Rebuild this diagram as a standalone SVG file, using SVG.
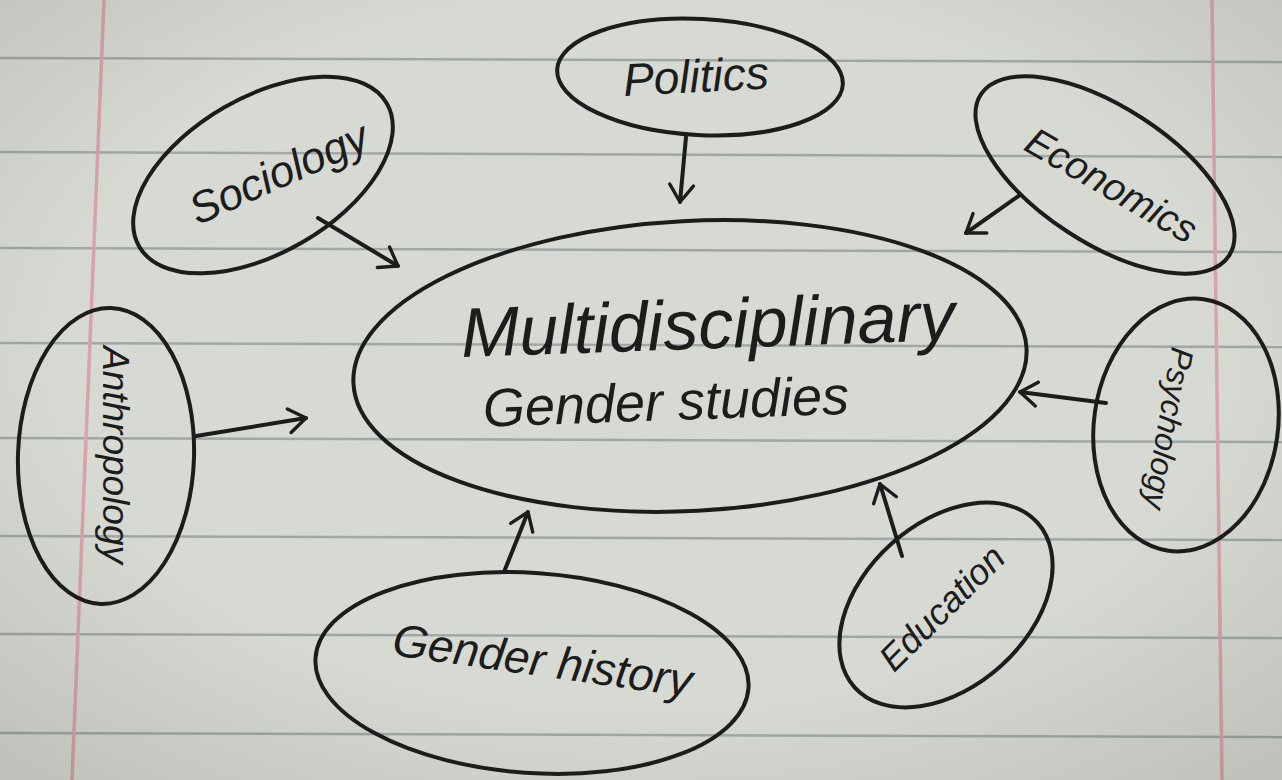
<svg xmlns="http://www.w3.org/2000/svg" width="1282" height="780" viewBox="0 0 1282 780">
<defs>
<style>
.paper{fill:#d6dad2}
.rule{stroke:#a0a8a6;stroke-width:2.5;fill:none}
.margin{stroke:#d9a3a8;stroke-width:3.5;fill:none}
.node{fill:none;stroke:#1c1c1c;stroke-width:4}
.edge{stroke:#1c1c1c;stroke-width:4;fill:none;stroke-linecap:round}
.lbl{font-family:"Liberation Sans",Arial,sans-serif;font-style:italic;fill:#1c1c1c;text-anchor:middle;dominant-baseline:middle}
</style>
<marker id="arr" viewBox="0 0 20 20" refX="18" refY="10" markerWidth="17" markerHeight="17" markerUnits="userSpaceOnUse" orient="auto" overflow="visible">
<path d="M-2,-4 L18,10 L-2,24" fill="none" stroke="#1c1c1c" stroke-width="4" stroke-linecap="round" stroke-linejoin="round"/>
</marker>
<radialGradient id="vig" cx="50%" cy="45%" r="75%">
<stop offset="0.6" stop-color="#000" stop-opacity="0"/>
<stop offset="1" stop-color="#000" stop-opacity="0.12"/>
</radialGradient>
</defs>
<rect class="paper" width="1282" height="780"/>
<g id="paper-lines">
<path class="rule" d="M0,58 L1282,62"/>
<path class="rule" d="M0,152 L1282,157"/>
<path class="rule" d="M0,248 L1282,252"/>
<path class="rule" d="M0,343 L1282,347"/>
<path class="rule" d="M0,438 L1282,442"/>
<path class="rule" d="M0,536 L1282,540"/>
<path class="rule" d="M0,634 L1282,638"/>
<path class="rule" d="M0,733 L1282,737"/>
<path class="margin" d="M104,0 L72,780"/>
<path class="margin" d="M1212,0 L1222,780"/>
</g>
<rect width="1282" height="780" fill="url(#vig)"/>
<g id="connectors">
<path class="edge" d="M686,137 L680,202" marker-end="url(#arr)"/>
<path class="edge" d="M1020,195 L966,233" marker-end="url(#arr)"/>
<path class="edge" d="M318,218 L398,266" marker-end="url(#arr)"/>
<path class="edge" d="M196,436 L306,418" marker-end="url(#arr)"/>
<path class="edge" d="M1106,403 L1020,392" marker-end="url(#arr)"/>
<path class="edge" d="M902,556 L880,484" marker-end="url(#arr)"/>
<path class="edge" d="M504,572 L528,512" marker-end="url(#arr)"/>
</g>
<g id="center">
<ellipse class="node" cx="690" cy="366" rx="337" ry="145" transform="rotate(-3 690 366)"/>
<text class="lbl" x="708" y="330" font-size="70" transform="rotate(-2 708 330)">Multidisciplinary</text>
<text class="lbl" x="666" y="406" font-size="54" transform="rotate(-2 666 406)">Gender studies</text>
</g>
<g id="politics">
<ellipse class="node" cx="700" cy="77" rx="143" ry="58" transform="rotate(3 700 77)"/>
<text class="lbl" x="696" y="80" font-size="46" transform="rotate(-3 696 80)">Politics</text>
</g>
<g id="sociology">
<ellipse class="node" cx="263" cy="175" rx="143" ry="78" transform="rotate(-30 263 175)"/>
<text class="lbl" x="280" y="176" font-size="44" transform="rotate(-24 280 176)">Sociology</text>
</g>
<g id="economics">
<ellipse class="node" cx="1105" cy="175" rx="148" ry="68" transform="rotate(33 1105 175)"/>
<text class="lbl" x="1110" y="188" font-size="39" transform="rotate(30 1110 188)">Economics</text>
</g>
<g id="anthropology">
<ellipse class="node" cx="106" cy="456" rx="88" ry="148" transform="rotate(2 106 456)"/>
<text class="lbl" x="113" y="455" font-size="37" transform="rotate(90 113 455)">Anthropology</text>
</g>
<g id="psychology">
<ellipse class="node" cx="1186" cy="425" rx="92" ry="127" transform="rotate(8 1186 425)"/>
<text class="lbl" x="1166" y="428" font-size="32" transform="rotate(100 1166 428)">Psychology</text>
</g>
<g id="education">
<ellipse class="node" cx="946" cy="605" rx="123" ry="82" transform="rotate(-42 946 605)"/>
<text class="lbl" x="944" y="610" font-size="36" transform="rotate(-45 944 610)">Education</text>
</g>
<g id="gender-history">
<ellipse class="node" cx="532" cy="673" rx="217" ry="100" transform="rotate(4 532 673)"/>
<text class="lbl" x="542" y="664" font-size="46" transform="rotate(8 542 664)">Gender history</text>
</g>
</svg>
